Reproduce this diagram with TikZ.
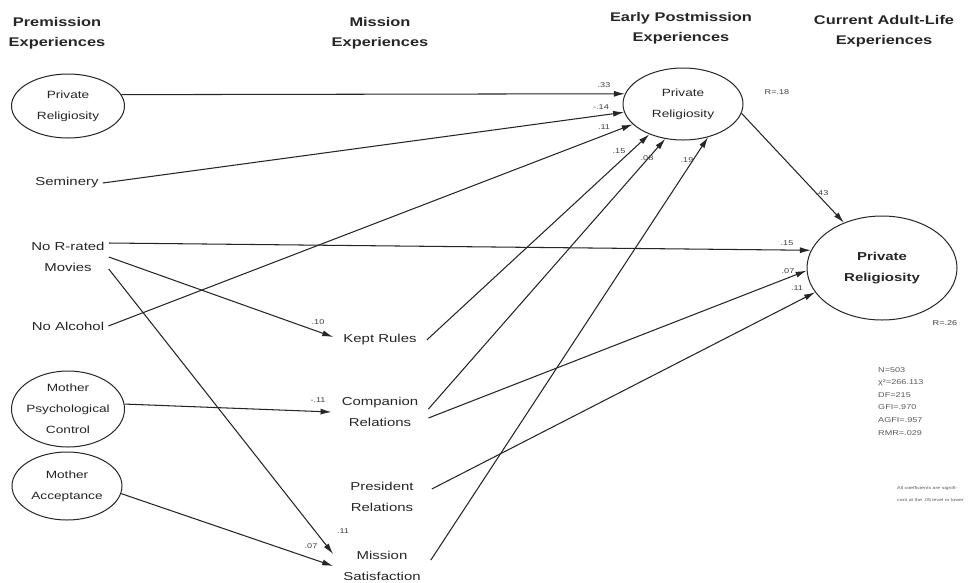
\documentclass[tikz,border=0pt]{standalone}
\usepackage{fontspec}
\setmainfont[FakeStretch=1.3]{Liberation Sans}
\usetikzlibrary{arrows.meta,shapes.geometric}
\begin{document}
\begin{tikzpicture}[x=1pt,y=-1pt,
  conn/.style={draw=black!85, line width=1.05pt, -{Latex[length=11pt,width=6pt]}},
  ell/.style={draw=black!85, line width=1pt, ellipse, inner sep=0pt},
  hdr/.style={font=\fontsize{12.6}{20}\selectfont\bfseries, align=center, text=black!85},
  midtxt/.style={font=\fontsize{11.5}{21}\selectfont, align=center, inner xsep=10pt, text=black!85},
  lefttxt/.style={font=\fontsize{11.5}{21}\selectfont, align=center, inner xsep=4pt, text=black!85},
  elltxt/.style={font=\fontsize{10.5}{21}\selectfont, align=center, text=black!85},
  coef/.style={font=\fontsize{7}{8}\selectfont, text=black!75, inner sep=0pt},
  stat/.style={font=\fontsize{7}{12.6}\selectfont, text=black!65, align=left, inner sep=0pt},
  foot/.style={font=\fontsize{4.1}{12}\selectfont, text=black!65, align=left, inner sep=0pt}
]
\useasboundingbox[fill=white] (0,0) rectangle (969,582);

% headers
\node[hdr] (h1) at (57,33) {Premission\\Experiences};
\node[hdr] (h2) at (380,33) {Mission\\Experiences};
\node[hdr] (h3) at (681,28) {Early Postmission\\Experiences};
\node[hdr] (h4) at (884,31) {Current Adult-Life\\Experiences};

% premission
\node[ell, minimum width=113pt, minimum height=64pt] (lpr) at (68,106) {};
\node[elltxt] (lprt) at (lpr) {Private\\Religiosity};
\node[lefttxt] (sem) at (67,183) {Seminery};
\node[lefttxt] (nrm) at (68,257) {No R-rated\\Movies};
\node[lefttxt] (nal) at (68,326) {No Alcohol};
\node[ell, minimum width=113pt, minimum height=76pt] (mpc) at (68,409) {};
\node[elltxt] (mpct) at (mpc) {Mother\\Psychological\\Control};
\node[ell, minimum width=110pt, minimum height=68pt] (mac) at (67,486) {};
\node[elltxt] (mact) at (mac) {Mother\\Acceptance};

% mission
\node[midtxt] (kr) at (380,340) {Kept Rules};
\node[midtxt] (cr) at (380,412) {Companion\\Relations};
\node[midtxt] (pr) at (382,497) {President\\Relations};
\node[midtxt] (ms) at (382,566) {Mission\\Satisfaction};

% postmission and adult life
\node[ell, minimum width=120pt, minimum height=72pt] (epr) at (683,104) {};
\node[elltxt] (eprt) at (epr) {Private\\Religiosity};
\node[ell, minimum width=150pt, minimum height=104pt] (cpr) at (882,268) {};
\node[elltxt, font=\fontsize{11.5}{21}\selectfont\bfseries] (cprt) at (cpr) {Private\\Religiosity};

\node[coef] (r1) at (777,92) {R=.18};
\node[coef] (r2) at (945,323) {R=.26};

% connectors
\draw[conn] (lpr.12) -- (epr.170);
\draw[conn] (sem.east) -- (epr.188);
\draw[conn] (nal.east) -- (epr.202);
\draw[conn] (kr.east) -- (epr.222);
\draw[conn] ([yshift=3]cr.east) -- (epr.243);
\draw[conn] ([yshift=6]ms.east) -- (epr.307);
\draw[conn] (epr.-9) -- (cpr.130);
\draw[conn] ([yshift=14]nrm.east) -- (cpr.166);
\draw[conn] ([yshift=-6]cr.east) -- (cpr.182);
\draw[conn] ([xshift=8,yshift=8]pr.east) -- (cpr.200);
\draw[conn] (nrm.east) -- ([yshift=3]kr.west);
\draw[conn] ([yshift=-12]nrm.east) -- ([yshift=12]ms.west);
\draw[conn] (mpc.5) -- (cr.west);
\draw[conn] (mac.-8) -- (ms.west);

% coefficients
\node[coef] (c1) at (604,85) {.33};
\node[coef] (c2) at (601,107) {-.14};
\node[coef] (c3) at (604,127) {.11};
\node[coef] (c4) at (619,151) {.15};
\node[coef] (c5) at (647,158) {.08};
\node[coef] (c6) at (687,160) {.19};
\node[coef] (c7) at (822,193) {.43};
\node[coef] (c8) at (787,243) {.15};
\node[coef] (c9) at (788,271) {.07};
\node[coef] (c10) at (797,288) {.11};
\node[coef] (c11) at (318,322) {.10};
\node[coef] (c12) at (318,400) {-.11};
\node[coef] (c13) at (343,531) {.11};
\node[coef] (c14) at (311,546) {.07};

% fit statistics and note
\node[stat, anchor=north west] (stats) at (878,367) {N=503\\χ²=266.113\\DF=215\\GFI=.970\\AGFI=.957\\RMR=.029};
\node[foot, anchor=north west] (fn) at (897,486) {All coefficients are signifi-\\cant at the .05 level or lower};
\end{tikzpicture}
\end{document}
